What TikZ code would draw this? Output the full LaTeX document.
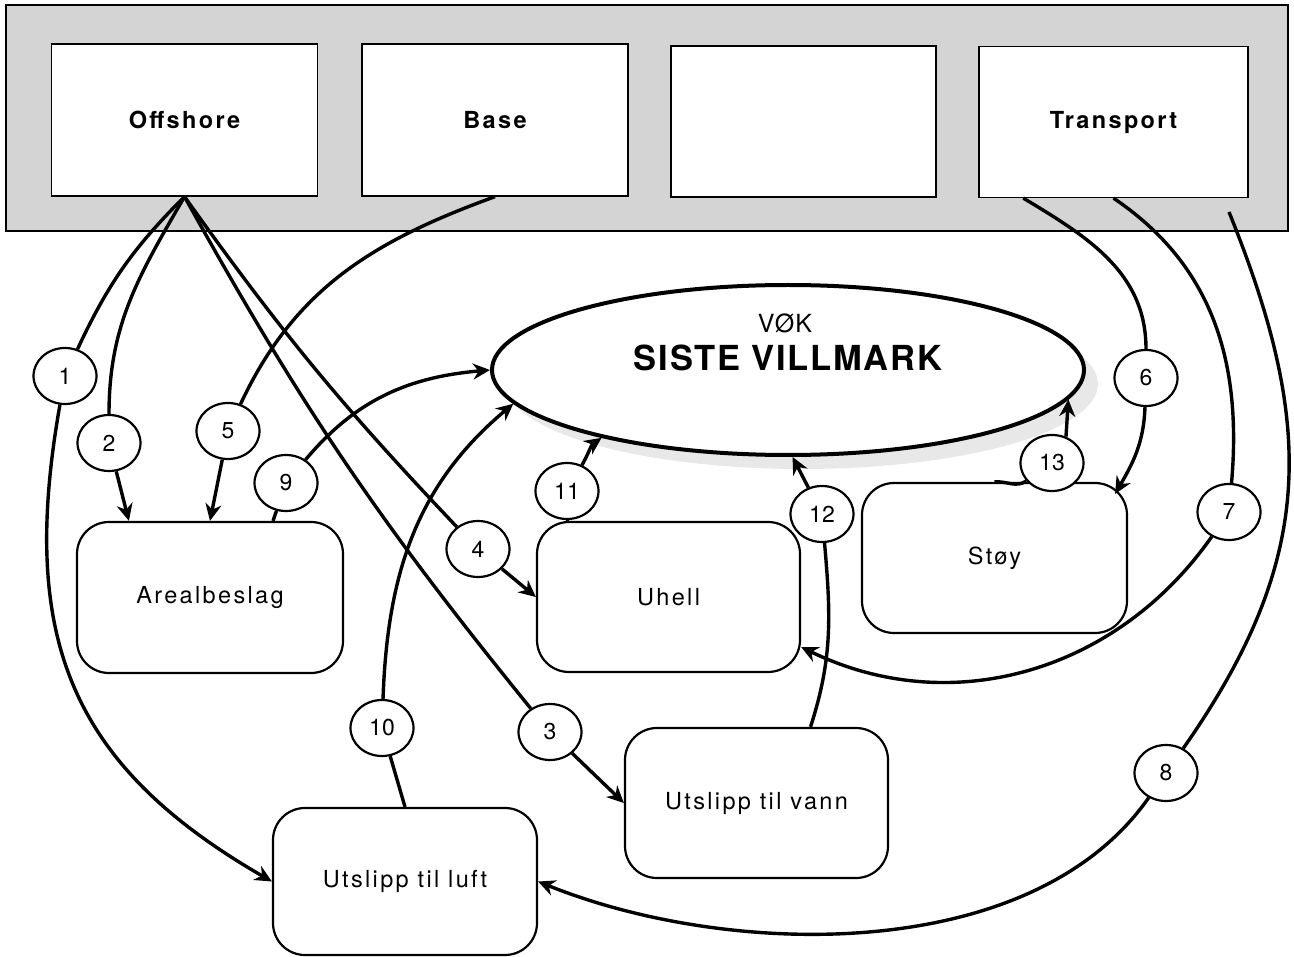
\documentclass[tikz,border=0pt]{standalone}
\usepackage{fontspec}
\setmainfont{TeX Gyre Heros}
\newfontfamily\mylabfont[LetterSpace=10]{TeX Gyre Heros}
\newfontfamily\mytitlefont[LetterSpace=5]{TeX Gyre Heros}
\usetikzlibrary{shapes.geometric,arrows.meta,calc}
\begin{document}
\begin{tikzpicture}[x=1pt,y=1pt,
  band/.style={draw, line width=1.5pt, fill=black!17, minimum width=1282pt, minimum height=226pt, inner sep=0pt},
  topbox/.style={draw, line width=1.3pt, fill=white, minimum width=266pt, minimum height=152pt, inner sep=0pt, font=\mylabfont\bfseries\fontsize{23.5}{27}\selectfont},
  rbox/.style={draw, line width=2.2pt, fill=white, rounded corners=32pt, minimum width=264pt, minimum height=150pt, inner sep=0pt, font=\mylabfont\fontsize{23.5}{27}\selectfont},
  num/.style={ellipse, draw, line width=2.2pt, fill=white, minimum width=63pt, minimum height=56pt, inner sep=0pt, font=\fontsize{23}{26}\selectfont},
  conn/.style={line width=3.4pt, -{Stealth[length=17pt,width=16pt]}},
  link/.style={line width=3.4pt},
  bigell/.style={ellipse, draw, line width=4pt, fill=white, minimum width=592pt, minimum height=170pt, inner sep=0pt}
]
\useasboundingbox (0,0) rectangle (1294,-957);

% top band
\node[band] (band) at (647,-118) {};
\node[topbox] (off) at (184.5,-120) {Offshore};
\node[topbox] (base) at (495,-120) {Base};
\node[topbox, minimum width=265pt, minimum height=151pt] (emp) at (803.5,-121.5) {};
\node[topbox, minimum width=269pt, minimum height=151pt] (trans) at (1113.5,-122) {Transport};

% central ellipse
\fill[black!9] (802,-384) ellipse [x radius=296pt, y radius=85pt];
\node[bigell] (sv) at (788,-370) {};
\node[font=\mytitlefont\fontsize{25}{29}\selectfont] (vok) at (785,-323) {VØK};
\node[font=\mytitlefont\bfseries\fontsize{34.5}{40}\selectfont] (sivi) at (788,-358) {SISTE VILLMARK};

% effect boxes
\node[rbox, minimum width=266pt, minimum height=151pt] (areal) at (210,-597.5) {Arealbeslag};
\node[rbox, minimum width=263pt] (uhell) at (668.5,-597) {Uhell};
\node[rbox, minimum width=265pt] (stoy) at (994.5,-558) {Støy};
\node[rbox, minimum width=263pt] (vann) at (756.5,-803) {Utslipp til vann};
\node[rbox, minimum height=147pt] (luft) at (405,-881.5) {Utslipp til luft};

% numbered circles
\node[num] (n1) at (65,-376) {1};
\node[num] (n2) at (109,-443) {2};
\node[num] (n3) at (550,-732) {3};
\node[num] (n4) at (478,-549) {4};
\node[num] (n5) at (228,-431) {5};
\node[num] (n6) at (1146,-378) {6};
\node[num] (n7) at (1229,-512) {7};
\node[num] (n8) at (1166,-773) {8};
\node[num] (n9) at (286,-483) {9};
\node[num] (n10) at (382,-728) {10};
\node[num] (n11) at (567,-491) {11};
\node[num] (n12) at (822,-514) {12};
\node[num] (n13) at (1052,-463) {13};

% named free ends
\coordinate (t6) at ($(trans.south west)+(45,0)$);
\coordinate (t8) at (1229,-212);
\coordinate (s2) at ($(areal.north west)+(53,0)$);
\coordinate (s6) at ($(stoy.north east)+(-13,-12)$);
\coordinate (s7) at ($(uhell.east)+(0,-50)$);
\coordinate (s9) at ($(areal.north)+(63,0)$);
\coordinate (s11) at ($(uhell.north)+(-101,0)$);
\coordinate (s12) at ($(vann.north)+(54,0)$);

% connectors
\draw[link] (off.south) to[out=225,in=65] (n1);
\draw[conn] (n1) to[out=260,in=150,looseness=1.15] (luft.west);
\draw[link] (off.south) to[out=240,in=90] (n2);
\draw[conn] (n2) -- (s2);
\draw[link] (off.south) to[bend right=5] (n3);
\draw[conn] (n3) -- (vann.west);
\draw[link] (off.south) to[bend right=4] (n4);
\draw[conn] (n4) -- (uhell.west);
\draw[link] (base.south) to[out=200,in=65] (n5);
\draw[conn] (n5) -- (areal.north);
\draw[link] (t6) to[out=-31,in=90] (n6);
\draw[conn] (n6) to[out=268,in=60] (s6);
\draw[link] (trans.south) to[out=-34,in=85] (n7);
\draw[conn] (n7) to[out=235,in=-26] (s7);
\draw[link] (t8) to[out=-68,in=55,looseness=1.1] (n8);
\draw[conn] (n8) to[out=235,in=-22,looseness=0.85] (luft.east);
\draw[link] (s9) -- (n9);
\draw[conn] (n9) to[out=50,in=185] (sv.west);
\draw[link] (luft.north) -- (n10);
\draw[conn] (n10) to[out=88,in=220] (sv.187);
\draw[link] (s11) -- (n11);
\draw[conn] (n11) to[out=60,in=215] (sv.200);
\draw[link] (s12) to[out=72,in=-85] (n12);
\draw[conn] (n12) -- (sv.273);
\draw[link] (stoy.north) to[out=5,in=215] (n13);
\draw[conn] (n13.62) -- (sv.-6);
\end{tikzpicture}
\end{document}
